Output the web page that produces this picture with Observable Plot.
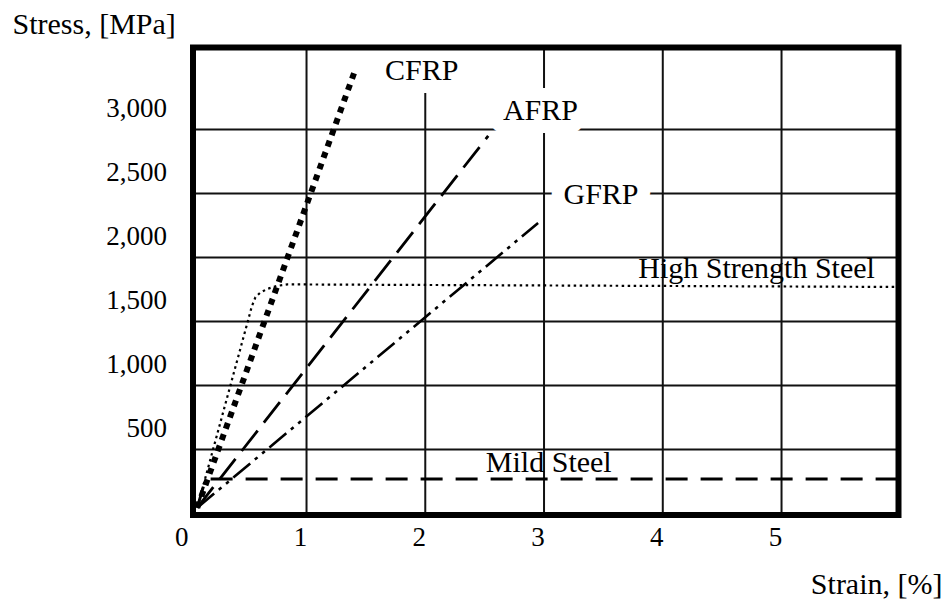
<!DOCTYPE html>
<html>
<head>
<meta charset="utf-8">
<script src="https://cdn.jsdelivr.net/npm/d3@7"></script>
<script src="https://cdn.jsdelivr.net/npm/@observablehq/plot@0.6"></script>
<style>
  html, body { margin: 0; padding: 0; background: white; }
  #chart { width: 947px; height: 603px; }
</style>
</head>
<body>
<div id="chart"></div>
<script>
// ---- data ----
const strainTicks = [0, 1, 2, 3, 4, 5];
const stressTicks = [500, 1000, 1500, 2000, 2500, 3000];

const cfrpStrain = [0.08, 1.40];
const cfrpStress = [45, 3440];
const afrpStrain = [0.08, 2.53];
const afrpStress = [45, 2950];
const gfrpStrain = [0.08, 2.95];
const gfrpStress = [45, 2270];
const hssStrain = [0.08, 0.54, 0.57, 0.61, 0.67, 0.75, 0.84, 5.98];
const hssStress = [45, 1620, 1690, 1725, 1755, 1778, 1790, 1770];
const mildStrain = [0.08, 0.15, 5.98];
const mildStress = [45, 270, 270];

const labelNames = ["CFRP", "AFRP", "GFRP", "High Strength Steel", "Mild Steel"];
const labelStrain = [1.97, 2.97, 3.48, 4.79, 3.04];
const labelStress = [3463, 3151, 2494, 1916, 401];
const boxedLabels = ["CFRP", "AFRP", "GFRP"];

// ---- build tables ----
const toRows = (xs, ys) => xs.map((x, i) => ({strain: x, stress: ys[i]}));
const cfrp = toRows(cfrpStrain, cfrpStress);
const afrp = toRows(afrpStrain, afrpStress);
const gfrp = toRows(gfrpStrain, gfrpStress);
const hss = toRows(hssStrain, hssStress);
const mild = toRows(mildStrain, mildStress);
const labels = labelNames.map((name, i) => ({name, strain: labelStrain[i], stress: labelStress[i]}));

const lineBase = {x: "strain", y: "stress", stroke: "black", strokeLinecap: "butt", strokeLinejoin: "round"};

const chart = Plot.plot({
  width: 947,
  height: 603,
  marginLeft: 192.5,
  marginRight: 49,
  marginTop: 47,
  marginBottom: 88.5,
  x: {domain: [0.044, 5.985]},
  y: {domain: [-12, 3641]},
  style: {fontFamily: "'Liberation Serif', 'Times New Roman', serif", color: "black", background: "white"},
  marks: [
    Plot.gridX(strainTicks.filter(d => d > 0), {stroke: "#111", strokeOpacity: 1, strokeWidth: 2}),
    Plot.gridY(stressTicks, {stroke: "#111", strokeOpacity: 1, strokeWidth: 2}),
    // labels with white box behind (interrupt the grid)
    Plot.text(labels.filter(d => boxedLabels.includes(d.name)), {
      x: "strain", y: "stress", text: "name", fontSize: 30,
      textAnchor: "middle", lineAnchor: "middle",
      fill: "black", stroke: "white", strokeWidth: 26, strokeLinejoin: "round", paintOrder: "stroke"
    }),
    Plot.text(labels.filter(d => !boxedLabels.includes(d.name)), {
      x: "strain", y: "stress", text: "name", fontSize: 30,
      textAnchor: "middle", lineAnchor: "middle", fill: "black"
    }),
    Plot.line(cfrp, {...lineBase, strokeWidth: 6, strokeDasharray: "6,6"}),
    Plot.line(afrp, {...lineBase, strokeWidth: 2.8, strokeDasharray: "26,10"}),
    Plot.line(gfrp, {...lineBase, strokeWidth: 2.6, strokeDasharray: "22,6,3.5,6,3.5,6"}),
    Plot.line(hss, {...lineBase, strokeWidth: 2.2, strokeDasharray: "2.5,3.5"}),
    Plot.line(mild, {...lineBase, strokeWidth: 3, strokeDasharray: "22,13"}),
    Plot.frame({stroke: "black", strokeWidth: 6}),
    Plot.axisX(strainTicks, {tickSize: 0, tickPadding: 11.5, dx: -6, fontSize: 27, label: null, tickFormat: d3.format("d")}),
    Plot.axisY(stressTicks, {tickSize: 0, tickPadding: 26, dy: -21, fontSize: 27, label: null, tickFormat: d3.format(",")}),
    Plot.text(["Stress, [MPa]"], {frameAnchor: "top-left", textAnchor: "start", lineAnchor: "middle", dx: -180.5, dy: -23.6, fontSize: 30, fill: "black"}),
    Plot.text(["Strain, [%]"], {frameAnchor: "bottom-right", textAnchor: "end", lineAnchor: "middle", dx: 44, dy: 68.9, fontSize: 30, fill: "black"})
  ]
});
document.getElementById("chart").appendChild(chart);
</script>
</body>
</html>
